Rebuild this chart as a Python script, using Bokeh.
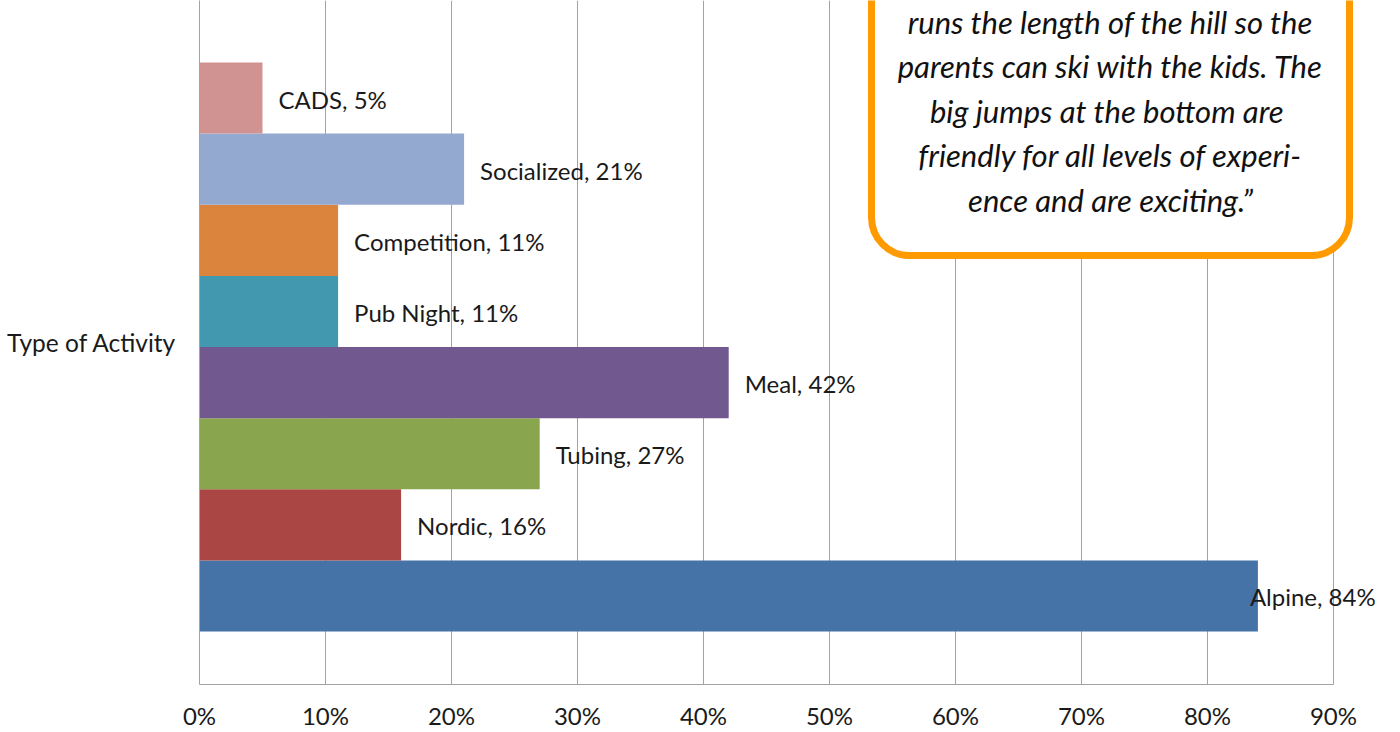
from bokeh.plotting import figure
from bokeh.models import (ColumnDataSource, FactorRange, Range1d, FixedTicker,
                          BoxAnnotation, Label, LabelSet)
from bokeh.core.properties import value
from bokeh.transform import dodge
from bokeh.embed import file_html
from bokeh.resources import INLINE

# ---------------- data ----------------
category = "Type of Activity"
activities = ["Alpine", "Nordic", "Tubing", "Meal", "Pub Night",
              "Competition", "Socialized", "CADS"]
shares = [84, 16, 27, 42, 11, 11, 21, 5]
colors = ["#4572A7", "#AA4643", "#89A54E", "#71588F", "#4198AF",
          "#DB843D", "#93A9CF", "#D19392"]
x_ticks = [0, 10, 20, 30, 40, 50, 60, 70, 80, 90]
x_tick_labels = ["0%", "10%", "20%", "30%", "40%", "50%", "60%", "70%", "80%", "90%"]
quote_lines = [
    "runs the length of the hill so the",
    "parents can ski with the kids. The",
    "big jumps at  the bottom are",
    "friendly for all levels of experi-",
    "ence and are exciting.\u201d",
]

# ---------------- style ----------------
FONT = "Lato"
TEXT = "#1a1a1a"
GRID = "#a3a3a3"
ORANGE = "#FF9A00"

W, H = 1400, 732
LEFT, RIGHT, TOP, BOTTOM = 199, 0, 0, 48
FW = W - LEFT - RIGHT
FH = H - TOP - BOTTOM
PX_PER_PCT = 1134 / 90          # 0%..90% spans 1134 px in the frame
X_END = FW / PX_PER_PCT         # frame extends a bit beyond 90% for labels/callout

p = figure(width=W, height=H,
           x_range=Range1d(0, X_END),
           y_range=FactorRange(factors=[category]),
           output_backend="svg", toolbar_location=None,
           min_border_left=LEFT, min_border_right=RIGHT,
           min_border_top=TOP, min_border_bottom=BOTTOM)
p.outline_line_color = None
p.background_fill_color = "white"
p.border_fill_color = "white"

n = len(activities)
group = 0.832          # share of the category band taken by the bar cluster
shift = -0.0066        # cluster sits slightly below the band centre
bh = group / n
for i, (name, v, c) in enumerate(zip(activities, shares, colors)):
    off = (i - (n - 1) / 2) * bh + shift
    src = ColumnDataSource(dict(cat=[category], val=[v], label=[f"{name}, {v}%"]))
    p.hbar(y=dodge("cat", off, range=p.y_range), left=0, right="val", height=bh,
           source=src, fill_color=c, line_color=None)
    dx = 16 if v < 80 else -8
    p.add_layout(LabelSet(x="val", y=dodge("cat", off, range=p.y_range), text="label",
                          source=src, x_offset=dx, y_offset=-1,
                          text_baseline="middle", text_align="left",
                          text_font=value(FONT), text_font_size="24px",
                          text_color=TEXT))

# axes
p.xaxis.ticker = FixedTicker(ticks=x_ticks)
p.xaxis.bounds = (0, 90)
p.xaxis.major_label_overrides = {t: l for t, l in zip(x_ticks, x_tick_labels)}
p.xaxis.major_label_standoff = 16
p.xaxis.major_tick_out = 0
p.xaxis.major_tick_in = 0
p.xaxis.minor_tick_out = 0
p.xaxis.minor_tick_in = 0
p.xaxis.axis_line_color = GRID
p.xaxis.major_label_text_font = FONT
p.xaxis.major_label_text_font_size = "24px"
p.xaxis.major_label_text_color = TEXT

p.yaxis.major_label_standoff = 23
p.yaxis.major_tick_out = 0
p.yaxis.major_tick_in = 0
p.yaxis.axis_line_color = GRID
p.yaxis.major_label_text_font = FONT
p.yaxis.major_label_text_font_size = "24.5px"
p.yaxis.major_label_text_color = TEXT

p.xgrid.ticker = FixedTicker(ticks=x_ticks)
p.xgrid.grid_line_color = GRID
p.ygrid.grid_line_color = None

# quote call-out box (decoration, placed in page pixels)
def px_to_x(px):
    return (px - LEFT) / PX_PER_PCT

def py_to_y(py):
    return ((TOP + FH) - py) / FH

box = BoxAnnotation(left=px_to_x(871), right=px_to_x(1349),
                    bottom=py_to_y(255), top=py_to_y(-80),
                    fill_color="white", fill_alpha=1.0,
                    line_color=ORANGE, line_width=7, line_alpha=1.0,
                    border_radius=38)
p.add_layout(box)

for k, line in enumerate(quote_lines):
    p.add_layout(Label(x=px_to_x(1110), y=py_to_y(21 + k * 44.5), text=line,
                       text_align="center", text_baseline="alphabetic",
                       text_font=FONT, text_font_style="italic",
                       text_font_size="31px", text_color="#111111"))

open("out.html", "w").write(file_html(p, INLINE))
